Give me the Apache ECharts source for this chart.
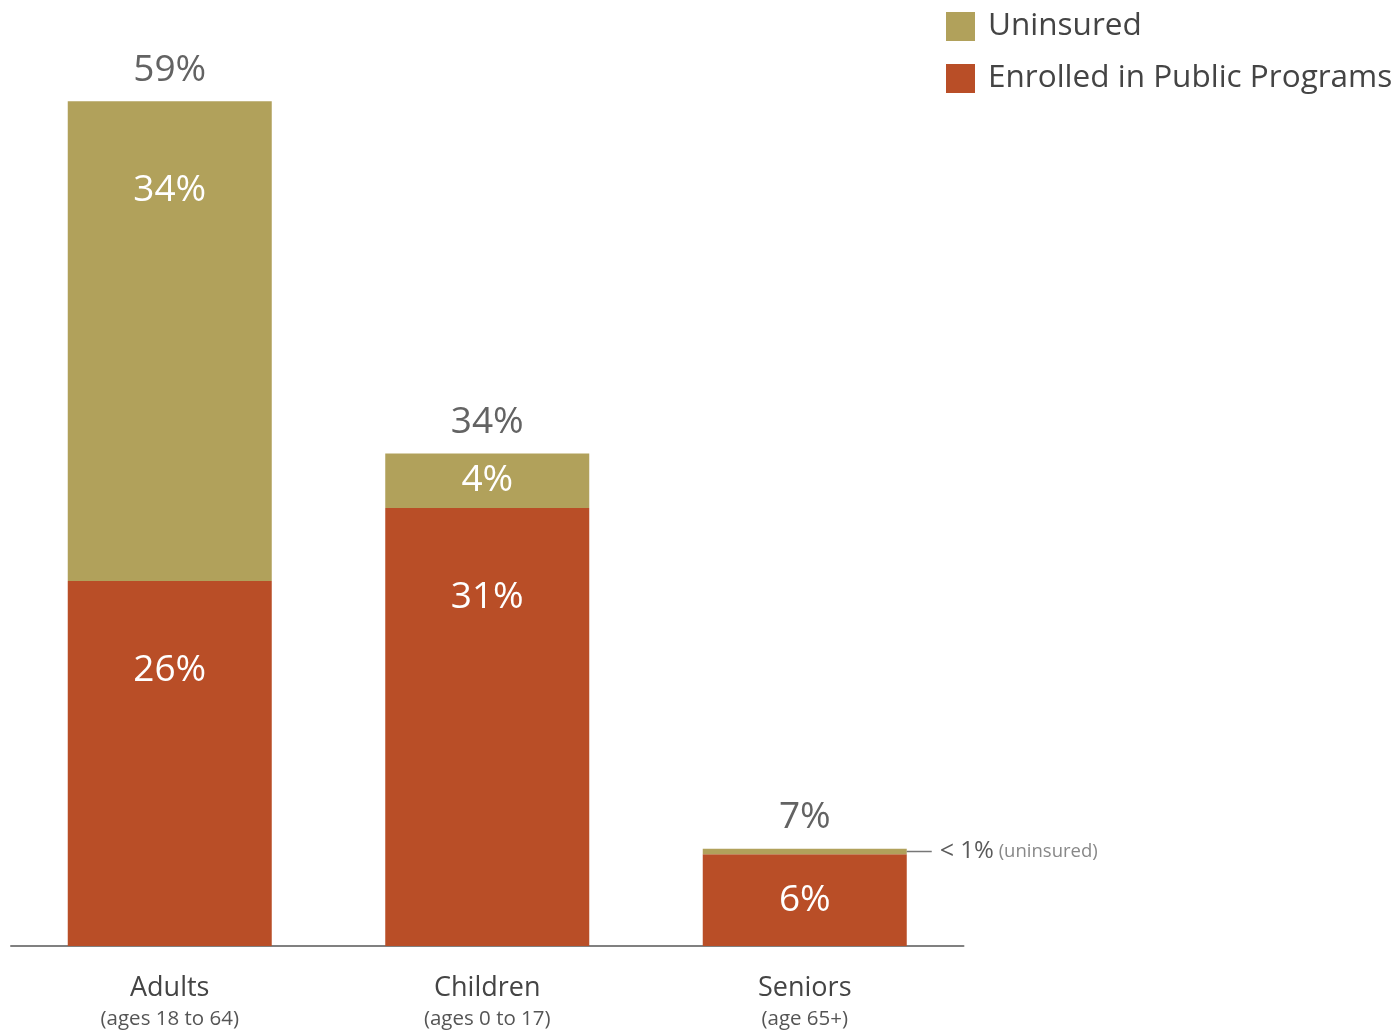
<!DOCTYPE html>
<html>
<head>
<meta charset="utf-8">
<title>Public program enrollment and uninsured rates by age group</title>
<script src="https://cdn.jsdelivr.net/npm/echarts@6/dist/echarts.min.js"></script>
<style>
  html, body { margin: 0; padding: 0; background: #fff; }
  #chart { width: 1399px; height: 1034px; }
</style>
</head>
<body>
<div id="chart"></div>
<script>
// Age groups and their sub-captions
const groups = ['Adults', 'Children', 'Seniors'];
const groupAges = ['(ages 18 to 64)', '(ages 0 to 17)', '(age 65+)'];

// Share of each group, in percent
const enrolled = [25.5, 30.6, 6.4];
const uninsured = [33.5, 3.8, 0.4];

const seriesNames = ['Uninsured', 'Enrolled in Public Programs'];

const totals = groups.map((g, i) => +(enrolled[i] + uninsured[i]).toFixed(1));

const FONT = '"Open Sans", "Noto Sans", sans-serif';
const OLIVE = '#B1A15B';
const RUST = '#B94E27';

function pct(v) { return Math.round(v) + '%'; }

// Tall segments carry their label near the top; short ones centre it
function segmentLabel(v) {
  return v > 10
    ? { position: 'insideTop', distance: 71 }
    : { position: 'inside' };
}

const chart = echarts.init(document.getElementById('chart'), null, { renderer: 'canvas' });

chart.setOption({
  animation: false,
  textStyle: { fontFamily: FONT },
  grid: { left: 11, right: 435.5, top: 87, bottom: 88, containLabel: false },
  legend: {
    data: seriesNames,
    orient: 'vertical',
    left: 946,
    top: 10,
    padding: 0,
    icon: 'rect',
    itemWidth: 29,
    itemHeight: 29,
    itemGap: 19,
    selectedMode: false,
    textStyle: { fontFamily: FONT, fontSize: 31.5, color: '#444', padding: [4, 0, 0, 8], lineHeight: 29 }
  },
  xAxis: {
    type: 'category',
    data: groups,
    axisTick: { show: false },
    axisLine: { lineStyle: { color: '#808080', width: 2 } },
    axisLabel: {
      margin: 26,
      formatter: (v, i) => '{a|' + v + '}\n{b|' + groupAges[i] + '}',
      rich: {
        a: { fontFamily: FONT, fontSize: 27, lineHeight: 32, color: '#444' },
        b: { fontFamily: FONT, fontSize: 20.5, lineHeight: 30, color: '#555' }
      }
    }
  },
  yAxis: { type: 'value', min: 0, max: 60, show: false, splitLine: { show: false } },
  series: [
    {
      name: 'Enrolled in Public Programs',
      type: 'bar',
      stack: 'share',
      barWidth: 204,
      itemStyle: { color: RUST },
      data: enrolled.map(v => ({ value: v, label: segmentLabel(v) })),
      label: {
        show: true,
        color: '#fff',
        fontFamily: FONT,
        fontSize: 37,
        formatter: p => pct(p.value)
      }
    },
    {
      name: 'Uninsured',
      type: 'bar',
      stack: 'share',
      barWidth: 204,
      itemStyle: { color: OLIVE },
      data: uninsured.map(v => v < 1
        ? {
            value: v,
            label: {
              position: 'right',
              distance: 0,
              formatter: '{line| }{lt|<}{big| 1%}{small| (uninsured)}',
              rich: {
                line: { width: 25, height: 1.5, backgroundColor: '#777' },
                lt: { fontFamily: FONT, fontSize: 25, color: '#5a5a5a', padding: [0, 0, 0, 8] },
                big: { fontFamily: FONT, fontSize: 24, color: '#5a5a5a' },
                small: { fontFamily: FONT, fontSize: 18.5, color: '#888' }
              }
            }
          }
        : { value: v, label: segmentLabel(v) }),
      label: {
        show: true,
        color: '#fff',
        fontFamily: FONT,
        fontSize: 37,
        formatter: p => pct(p.value)
      }
    },
    {
      name: 'Total',
      type: 'scatter',
      data: totals,
      symbolSize: 1,
      itemStyle: { color: 'rgba(0,0,0,0)', opacity: 1 },
      silent: true,
      label: {
        show: true,
        position: 'top',
        distance: 12,
        color: '#636363',
        fontFamily: FONT,
        fontSize: 37,
        formatter: p => pct(p.value)
      }
    }
  ]
});
</script>
</body>
</html>
